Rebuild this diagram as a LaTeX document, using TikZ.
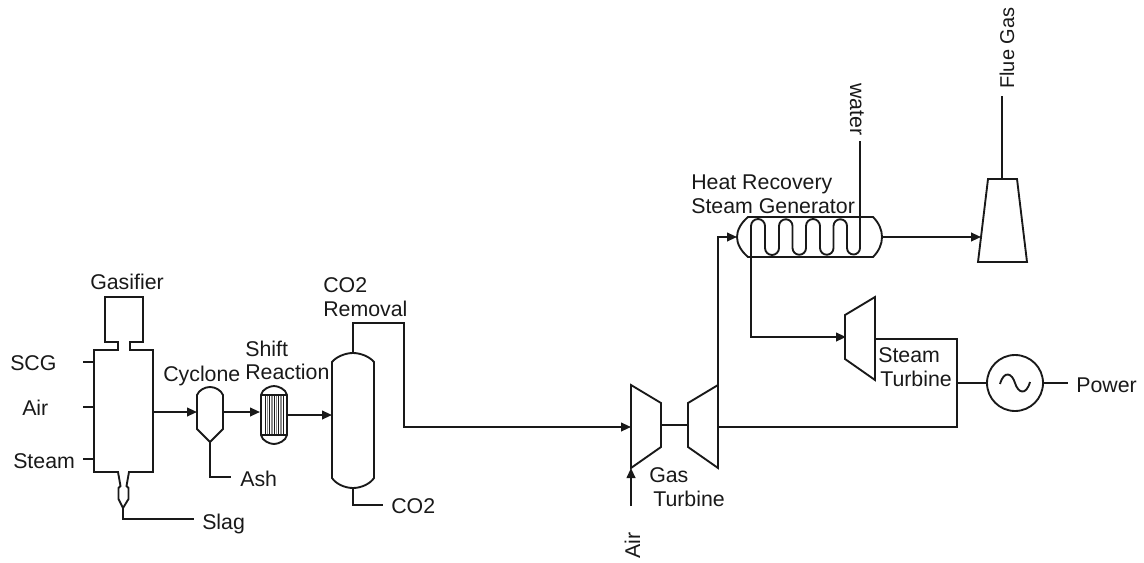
\documentclass[tikz,border=0pt]{standalone}
\usepackage{fontspec}
\setmainfont{Liberation Sans}
\usetikzlibrary{arrows.meta}
\tikzset{
  pipe/.style={draw=black!90,line width=1.4pt,line join=miter},
  flow/.style={pipe,-{Triangle[length=7.5pt,width=6.5pt]}},
  unit/.style={draw=black!90,line width=1.4pt,line join=miter},
  thin tube/.style={draw=black!90,line width=1pt},
  grey tube/.style={draw=black!45,line width=1.2pt},
  lbl/.style={inner sep=0pt,anchor=base west,font=\fontsize{16}{18}\selectfont,text=black!90},
  vlbl/.style={lbl,rotate=90},
}
\begin{document}
\begin{tikzpicture}[x=0.75pt,y=-0.75pt]
\useasboundingbox (0,0) rectangle (1144,563);
% ports
\coordinate (gasOut) at (153,412);
\coordinate (cycIn) at (197,412);
\coordinate (cycOut) at (223,412);
\coordinate (shiftIn) at (260,412);
\coordinate (shiftOut) at (287,415);
\coordinate (colIn) at (332,415);
\coordinate (colTop) at (353,353);
\coordinate (colBot) at (353,488);
\coordinate (compIn) at (631,427);
\coordinate (compBot) at (631,468);
\coordinate (compShaft) at (661,425);
\coordinate (turbShaft) at (688,425);
\coordinate (turbTop) at (718,385);
\coordinate (turbOut) at (718,427);
\coordinate (hrsgIn) at (737,237);
\coordinate (hrsgOut) at (882,237);
\coordinate (stackIn) at (981,237);
\coordinate (stackTop) at (1002,179);
\coordinate (stIn) at (846,337);
\coordinate (coilA) at (751,237);
\coordinate (coilB) at (860,237);
\coordinate (stOut) at (875,339);
\coordinate (busTop) at (957,339);
\coordinate (busBot) at (957,427);
\coordinate (genC) at (1015,383);
\coordinate (busGen) at (957,383);
\coordinate (cycTip) at (210,442);
\coordinate (slagTip) at (123,508);
% free ends
\coordinate (scgEnd) at (83,362); \coordinate (scgIn) at (94,362);
\coordinate (airEnd) at (83,407); \coordinate (airIn) at (94,407);
\coordinate (steamEnd) at (83,459); \coordinate (steamIn) at (94,459);
\coordinate (slagEnd) at (194,519);
\coordinate (ashEnd) at (231,477);
\coordinate (co2End) at (383,505);
\coordinate (airFree) at (631,506);
\coordinate (flueEnd) at (1002,96);
\coordinate (waterEnd) at (860,141);
\coordinate (powerEnd) at (1068,383);
% gasifier
\draw[unit] (118,350) -- (118,342) -- (105,342) -- (105,297) -- (143,297) -- (143,342) -- (130,342) -- (130,350) -- (153,350) -- (153,472) -- (94,472) -- (94,350) -- cycle;
\draw[white,line width=2.2pt] (119.2,350) -- (128.8,350);
\draw[white,line width=2.2pt] (119,472) -- (128,472);
\draw[unit] (118,472) -- (120.5,486) -- (118.5,488) -- (118.5,499) -- (slagTip) -- (128.5,499) -- (128.5,488) -- (126.5,486) -- (129,472);
% cyclone
\draw[unit] (197,395) .. controls (199,390) and (205,387) .. (210,387) .. controls (215,387) and (221,390) .. (223,395) -- (223,429) -- (cycTip) -- (197,429) -- cycle;
% shift reactor
\foreach \x in {267.5,272,276.5,281} \draw[grey tube] (\x,395) -- (\x,435);
\foreach \x in {265.25,269.75,274.25,278.75,283.25} \draw[thin tube] (\x,395) -- (\x,435);
\draw[unit] (261,395) .. controls (262,389) and (270,386) .. (274,386) .. controls (278,386) and (286,389) .. (287,395) -- (287,435) .. controls (286,441) and (278,444) .. (274,444) .. controls (270,444) and (262,441) .. (261,435) -- cycle;
\draw[unit] (261,395) -- (287,395) (261,435) -- (287,435);
% column
\draw[unit] (332,362) .. controls (336,357) and (345,353) .. (353,353) .. controls (361,353) and (370,357) .. (374,362) -- (374,478) .. controls (370,484) and (361,488) .. (353,488) .. controls (345,488) and (336,484) .. (332,478) -- cycle;
% compressor / turbine
\draw[unit] (631,385) -- (661,403) -- (661,447) -- (631,468) -- cycle;
\draw[unit] (688,403) -- (718,385) -- (718,468) -- (688,447) -- cycle;
% HRSG
\draw[unit] (748,217) -- (873,217) .. controls (879,223) and (882,230) .. (882,237) .. controls (882,244) and (879,251) .. (873,257) -- (748,257) .. controls (741,251) and (737,244) .. (737,237) .. controls (737,230) and (741,223) .. (748,217) -- cycle;
\draw[unit] (coilA) -- (751,226) arc[start angle=180,end angle=360,radius=7] -- (765,248) arc[start angle=180,end angle=0,radius=7] -- (779,226) arc[start angle=180,end angle=360,radius=6.75] -- (792.5,248) arc[start angle=180,end angle=0,radius=6.75] -- (806,226) arc[start angle=180,end angle=360,radius=7] -- (820,248) arc[start angle=180,end angle=0,radius=6.75] -- (833.5,226) arc[start angle=180,end angle=360,radius=6.75] -- (847,248) arc[start angle=180,end angle=0,radius=6.5] -- (coilB);
% stack
\draw[unit] (988,179) -- (1017,179) -- (1027,262) -- (978,262) -- cycle;
% steam turbine
\draw[unit] (845,315) -- (875,297) -- (875,380) -- (845,359) -- cycle;
% generator
\draw[unit] (genC) circle[radius=28];
\draw[unit] (1000,384) .. controls (1004,370) and (1012,373) .. (1015,383) .. controls (1018,393) and (1026,396) .. (1030,382);
% connectors
\draw[pipe] (scgEnd) -- (scgIn);
\draw[pipe] (airEnd) -- (airIn);
\draw[pipe] (steamEnd) -- (steamIn);
\draw[pipe] (slagTip) |- (slagEnd);
\draw[pipe] (cycTip) |- (ashEnd);
\draw[flow] (gasOut) -- (cycIn);
\draw[flow] (cycOut) -- (shiftIn);
\draw[flow] (shiftOut) -- (colIn);
\draw[pipe] (colBot) |- (co2End);
\draw[flow] (colTop) |- (404,323) |- (compIn);
\draw[flow] (airFree) -- (compBot);
\draw[pipe] (compShaft) -- (turbShaft);
\draw[flow] (turbTop) |- (hrsgIn);
\draw[flow] (hrsgOut) -- (stackIn);
\draw[pipe] (stackTop) -- (flueEnd);
\draw[pipe] (coilB) -- (waterEnd);
\draw[flow] (coilA) |- (stIn);
\draw[pipe] (turbOut) -- (busBot) -- (busTop) -- (stOut);
\draw[pipe] (busGen) -- (987,383);
\draw[pipe] (1043,383) -- (powerEnd);
% labels
\node[lbl] (tGasifier) at (90,289) {Gasifier};
\node[lbl] (tSCG) at (10,370) {SCG};
\node[lbl] (tAir) at (22,415) {Air};
\node[lbl] (tSteam) at (13,468) {Steam};
\node[lbl] (tCyclone) at (163,381) {Cyclone};
\node[lbl] (tShift) at (245,356) {Shift};
\node[lbl] (tReaction) at (245,379) {Reaction};
\node[lbl] (tAsh) at (240,486) {Ash};
\node[lbl] (tSlag) at (202,529) {Slag};
\node[lbl] (tCO2a) at (323,292) {CO2};
\node[lbl] (tRemoval) at (323,316) {Removal};
\node[lbl] (tCO2b) at (391,513) {CO2};
\node[lbl] (tGas) at (649,482) {Gas};
\node[lbl] (tTurbine) at (653,506) {Turbine};
\node[vlbl] (tAirV) at (640,559) {Air};
\node[lbl] (tHeat) at (691,189) {Heat Recovery};
\node[lbl] (tSG) at (691,213) {Steam Generator};
\node[lbl,rotate=-90] (tWater) at (850,83) {water};
\node[vlbl,font=\fontsize{15}{18}\selectfont] (tFlue) at (1014,89) {Flue Gas};
\node[lbl] (tSteamT) at (878,362) {Steam};
\node[lbl] (tTurbT) at (880,386) {Turbine};
\node[lbl] (tPower) at (1076,392) {Power};
\end{tikzpicture}
\end{document}
